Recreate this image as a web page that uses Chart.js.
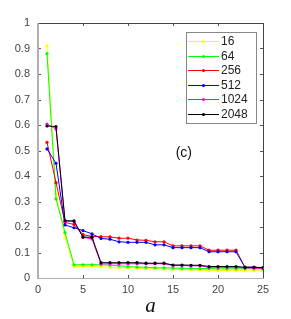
<!DOCTYPE html>
<html>
<head>
<meta charset="utf-8">
<script src="https://cdn.jsdelivr.net/npm/chart.js@4/dist/chart.umd.min.js"></script>
<style>
  html, body { margin: 0; padding: 0; background: #fff; }
  #wrap { width: 291px; height: 319px; }
</style>
</head>
<body>
<div id="wrap"><canvas id="chart" width="291" height="319"></canvas></div>
<script>
// step index a = 1..25
const steps = [1, 2, 3, 4, 5, 6, 7, 8, 9, 10, 11, 12, 13, 14, 15, 16, 17, 18, 19, 20, 21, 22, 23, 24, 25];

const sizeLabels = ['16', '64', '256', '512', '1024', '2048'];
const sizeColors = ['#ffff00', '#00ff00', '#ff0000', '#0000ff', '#ff00ff', '#000000'];

const n16 = [0.91, 0.33, 0.157, 0.045, 0.045, 0.045, 0.044, 0.042, 0.040, 0.040, 0.038, 0.037, 0.036,
             0.035, 0.034, 0.033, 0.032, 0.031, 0.030, 0.030, 0.029, 0.029, 0.028, 0.028, 0.027];
const n64 = [0.88, 0.31, 0.178, 0.052, 0.052, 0.052, 0.052, 0.050, 0.048, 0.045, 0.043, 0.042, 0.040,
             0.040, 0.039, 0.038, 0.038, 0.037, 0.037, 0.036, 0.036, 0.036, 0.036, 0.036, 0.035];
const n256 = [0.532, 0.374, 0.218, 0.210, 0.170, 0.163, 0.162, 0.161, 0.156, 0.156, 0.149, 0.148, 0.142,
              0.142, 0.126, 0.126, 0.126, 0.126, 0.109, 0.109, 0.109, 0.109, 0.042, 0.042, 0.040];
const n512 = [0.506, 0.450, 0.208, 0.197, 0.186, 0.173, 0.155, 0.152, 0.142, 0.140, 0.140, 0.140, 0.130,
              0.130, 0.119, 0.119, 0.119, 0.119, 0.103, 0.103, 0.103, 0.103, 0.042, 0.042, 0.040];
const n1024 = [0.604, 0.584, 0.222, 0.222, 0.160, 0.153, 0.055, 0.056, 0.056, 0.056, 0.056, 0.056, 0.056,
               0.056, 0.049, 0.049, 0.048, 0.048, 0.042, 0.042, 0.042, 0.042, 0.040, 0.039, 0.037];
const n2048 = [0.596, 0.594, 0.225, 0.224, 0.160, 0.160, 0.060, 0.060, 0.060, 0.060, 0.060, 0.058, 0.058,
               0.058, 0.051, 0.051, 0.050, 0.050, 0.045, 0.045, 0.045, 0.045, 0.042, 0.042, 0.041];
const allSeries = [n16, n64, n256, n512, n1024, n2048];

const xTickLabels = ['0', '5', '10', '15', '20', '25'];
const yTickLabels = ['0', '0.1', '0.2', '0.3', '0.4', '0.5', '0.6', '0.7', '0.8', '0.9', '1'];
const xTitle = 'a';
const panelLabel = '(c)';

const tickFont = { family: 'Liberation Sans', size: 11 };

// inside tick marks plus the box round the plot
const frame = {
    id: 'frame',
    afterDatasetsDraw(chart) {
        const { ctx, chartArea, scales } = chart;
        const { left, right, top, bottom } = chartArea;
        ctx.save();
        ctx.lineWidth = 1;
        ctx.strokeStyle = '#555';
        ctx.beginPath();
        scales.x.ticks.forEach(t => {
            const px = Math.round(scales.x.getPixelForValue(t.value)) + 0.5;
            ctx.moveTo(px, bottom); ctx.lineTo(px, bottom - 3);
            ctx.moveTo(px, top); ctx.lineTo(px, top + 3);
        });
        scales.y.ticks.forEach(t => {
            const py = Math.round(scales.y.getPixelForValue(t.value)) + 0.5;
            ctx.moveTo(left, py); ctx.lineTo(left + 3, py);
            ctx.moveTo(right, py); ctx.lineTo(right - 3, py);
        });
        ctx.stroke();

        ctx.strokeStyle = '#444';
        ctx.beginPath();
        ctx.moveTo(left, top + 0.5); ctx.lineTo(right + 0.5, top + 0.5);
        ctx.lineTo(right + 0.5, bottom);
        ctx.stroke();

        ctx.strokeStyle = '#b0b0b0';
        ctx.lineWidth = 2;
        ctx.beginPath();
        ctx.moveTo(left, top); ctx.lineTo(left, bottom + 1);
        ctx.stroke();
        ctx.lineWidth = 1;
        ctx.beginPath();
        ctx.moveTo(left, bottom + 0.5); ctx.lineTo(right + 1, bottom + 0.5);
        ctx.stroke();

        // panel label
        ctx.fillStyle = '#111';
        ctx.font = '14px "Liberation Sans"';
        ctx.textAlign = 'center';
        ctx.textBaseline = 'middle';
        ctx.fillText(panelLabel, scales.x.getPixelForValue(16.2), scales.y.getPixelForValue(0.49));
        ctx.restore();
    }
};

// legend box inside the plot, upper right
const boxLegend = {
    id: 'boxLegend',
    afterDraw(chart) {
        const { ctx, chartArea } = chart;
        const bx = chartArea.right - 77, by = chartArea.top + 9, bw = 70, bh = 91;
        ctx.save();
        ctx.fillStyle = '#fff';
        ctx.fillRect(bx, by, bw, bh);
        ctx.strokeStyle = '#888';
        ctx.lineWidth = 1;
        ctx.strokeRect(bx + 0.5, by + 0.5, bw, bh);
        ctx.font = '12px "Liberation Sans"';
        ctx.textBaseline = 'middle';
        chart.data.datasets.forEach((ds, i) => {
            const cy = Math.round(by + 9 + i * 14.6) + 0.5;
            ctx.strokeStyle = ds.borderColor;
            ctx.beginPath();
            ctx.moveTo(bx + 2, cy); ctx.lineTo(bx + 33, cy);
            ctx.stroke();
            ctx.fillStyle = ds.borderColor;
            ctx.beginPath();
            ctx.arc(bx + 17.5, cy, 1.6, 0, Math.PI * 2);
            ctx.fill();
            ctx.fillStyle = '#222';
            ctx.fillText(ds.label, bx + 35, cy + 0.5);
        });
        ctx.restore();
    }
};

const datasets = allSeries.map((vals, i) => ({
    label: sizeLabels[i],
    data: steps.map((a, j) => ({ x: a, y: vals[j] })),
    borderColor: sizeColors[i],
    backgroundColor: sizeColors[i],
    borderWidth: 1,
    pointRadius: 1.6,
    pointBorderWidth: 0,
    pointHoverRadius: 0,
    order: -i
}));

new Chart(document.getElementById('chart'), {
    type: 'line',
    data: { datasets },
    options: {
        responsive: false,
        animation: false,
        devicePixelRatio: 1,
        layout: { padding: { left: 0, top: 23, right: 28, bottom: 0 } },
        plugins: { legend: { display: false }, tooltip: { enabled: false } },
        scales: {
            x: {
                type: 'linear',
                min: 0, max: 25,
                grid: { display: false, drawTicks: false },
                border: { display: false },
                ticks: {
                    stepSize: 5,
                    color: '#444',
                    font: tickFont,
                    padding: 5,
                    maxRotation: 0,
                    callback: (v, i) => xTickLabels[i]
                },
                title: {
                    display: true,
                    text: xTitle,
                    color: '#111',
                    font: { family: 'Liberation Serif', size: 21, style: 'italic' },
                    padding: { top: 0, bottom: 0 }
                },
                afterFit: s => { s.height = 41; }
            },
            y: {
                min: 0, max: 1,
                grid: { display: false, drawTicks: false },
                border: { display: false },
                ticks: {
                    stepSize: 0.1,
                    color: '#444',
                    font: tickFont,
                    padding: 8,
                    callback: (v, i) => yTickLabels[i]
                },
                afterFit: s => { s.width = 38; }
            }
        }
    },
    plugins: [frame, boxLegend]
});
</script>
</body>
</html>
